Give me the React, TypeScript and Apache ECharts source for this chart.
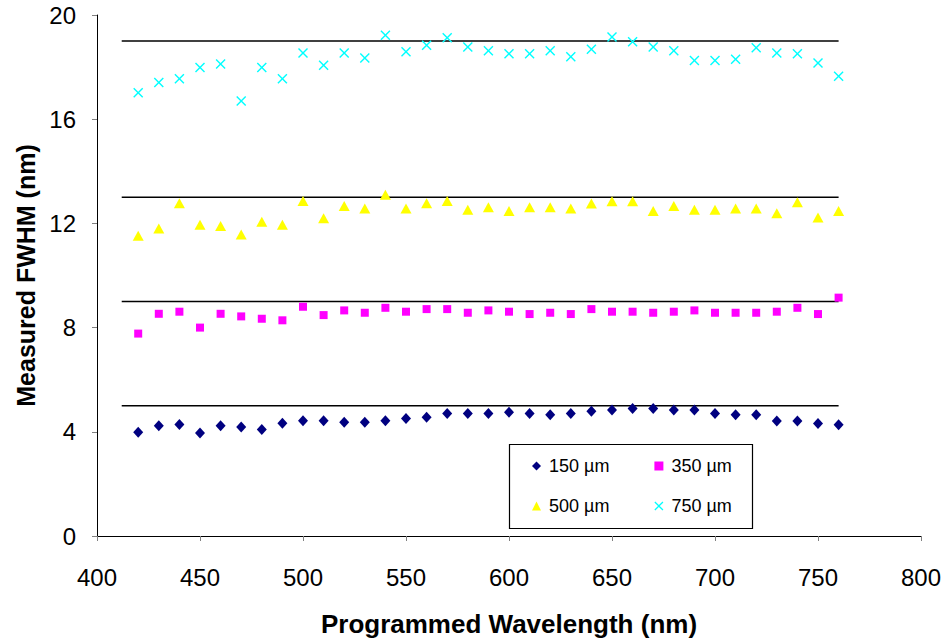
import React, { useEffect, useRef } from "react";
import * as echarts from "echarts";

const wavelengths = [420, 430, 440, 450, 460, 470, 480, 490, 500, 510, 520, 530, 540, 550, 560, 570, 580, 590, 600, 610, 620, 630, 640, 650, 660, 670, 680, 690, 700, 710, 720, 730, 740, 750, 760];

const fwhm150 = [3.98, 4.23, 4.28, 3.95, 4.23, 4.18, 4.09, 4.33, 4.42, 4.42, 4.37, 4.37, 4.42, 4.51, 4.56, 4.70, 4.70, 4.70, 4.75, 4.70, 4.65, 4.70, 4.79, 4.84, 4.89, 4.89, 4.84, 4.84, 4.70, 4.65, 4.65, 4.41, 4.41, 4.32, 4.27];
const fwhm350 = [7.77, 8.53, 8.61, 8.00, 8.53, 8.43, 8.34, 8.28, 8.80, 8.48, 8.66, 8.57, 8.76, 8.61, 8.71, 8.71, 8.57, 8.66, 8.61, 8.52, 8.57, 8.52, 8.71, 8.61, 8.61, 8.57, 8.61, 8.66, 8.57, 8.57, 8.57, 8.61, 8.76, 8.52, 9.15];
const fwhm500 = [11.53, 11.80, 12.77, 11.95, 11.90, 11.57, 12.06, 11.95, 12.86, 12.20, 12.67, 12.57, 13.10, 12.57, 12.77, 12.86, 12.52, 12.62, 12.48, 12.62, 12.62, 12.57, 12.76, 12.85, 12.85, 12.48, 12.67, 12.52, 12.52, 12.57, 12.57, 12.39, 12.81, 12.23, 12.48];
const fwhm750 = [17.02, 17.41, 17.55, 17.98, 18.12, 16.70, 17.98, 17.55, 18.54, 18.07, 18.54, 18.35, 19.22, 18.59, 18.84, 19.13, 18.77, 18.63, 18.51, 18.51, 18.63, 18.40, 18.69, 19.16, 18.97, 18.77, 18.63, 18.25, 18.25, 18.30, 18.74, 18.54, 18.51, 18.16, 17.65];

const seriesNames = ["150 µm", "350 µm", "500 µm", "750 µm"];
const nominalLevels = [5, 9, 13, 19];
const nominalRange = [412, 760];

const xTicks = { min: 400, max: 800, interval: 50 };
const yTicks = { min: 0, max: 20, interval: 4 };

const FONT = "'Liberation Sans', Arial, sans-serif";
const CROSS = "path://M0,1 L1,0 L5,4 L9,0 L10,1 L6,5 L10,9 L9,10 L5,6 L1,10 L0,9 L4,5 Z";

export default function App() {
  const ref = useRef<HTMLDivElement>(null);
  useEffect(() => {
    if (!ref.current) return;
    const chart = echarts.init(ref.current, null, { renderer: "svg" });
    const toPts = (vals: number[]) => wavelengths.map((w, i) => [w, vals[i]]);
    const scatterDefs = [
      { name: seriesNames[0], data: fwhm150, symbol: "diamond", size: [10, 11], color: "#000080" },
      { name: seriesNames[1], data: fwhm350, symbol: "rect", size: 8, color: "#FF00FF" },
      { name: seriesNames[2], data: fwhm500, symbol: "triangle", size: [11, 10], color: "#FFFF00" },
      { name: seriesNames[3], data: fwhm750, symbol: CROSS, size: 10, color: "#00FFFF" },
    ];
    const series: any[] = [];
    nominalLevels.forEach((lv) => {
      series.push({
        type: "line",
        name: "nominal " + lv,
        data: nominalRange.map((x) => [x, lv]),
        symbol: "none",
        lineStyle: { color: "#000", width: 1.5 },
        silent: true,
        z: 1,
      });
    });
    scatterDefs.forEach((d) => {
      series.push({
        type: "scatter",
        name: d.name,
        data: toPts(d.data),
        symbol: d.symbol,
        symbolSize: d.size,
        itemStyle: { color: d.color, opacity: 1 },
        z: 3,
      });
    });
    const legendCommon = {
      orient: "horizontal",
      itemWidth: 9,
      itemHeight: 9,
      itemGap: 45,
      textStyle: { fontFamily: FONT, fontSize: 18, color: "#000", padding: [0, 0, 0, 3] },
      padding: 0,
    };
    chart.setOption({
      animation: false,
      backgroundColor: "#fff",
      grid: { left: 97, right: 25, top: 15, bottom: 105, containLabel: false },
      xAxis: {
        type: "value",
        min: xTicks.min,
        max: xTicks.max,
        interval: xTicks.interval,
        name: "Programmed Wavelength (nm)",
        nameLocation: "middle",
        nameGap: 75,
        nameTextStyle: { fontFamily: FONT, fontSize: 26, fontWeight: "bold", color: "#000" },
        axisLine: { lineStyle: { color: "#000", width: 1 } },
        axisTick: { show: true, inside: false, length: 5, lineStyle: { color: "#808080" } },
        axisLabel: { fontFamily: FONT, fontSize: 24, color: "#000", margin: 29 },
        splitLine: { show: false },
      },
      yAxis: {
        type: "value",
        min: yTicks.min,
        max: yTicks.max,
        interval: yTicks.interval,
        name: "Measured FWHM (nm)",
        nameLocation: "middle",
        nameGap: 54,
        nameRotate: 90,
        nameTextStyle: { fontFamily: FONT, fontSize: 25, fontWeight: "bold", color: "#000" },
        axisLine: { show: true, lineStyle: { color: "#000", width: 1 } },
        axisTick: { show: true, inside: false, length: 5, lineStyle: { color: "#808080" } },
        axisLabel: { fontFamily: FONT, fontSize: 24, color: "#000", margin: 21 },
        splitLine: { show: false },
      },
      legend: [
        { ...legendCommon, left: 532, top: 457, data: [seriesNames[0], seriesNames[1]] },
        { ...legendCommon, left: 532, top: 497, data: [seriesNames[2], seriesNames[3]] },
      ],
      graphic: [
        {
          type: "rect",
          shape: { x: 509.5, y: 444.5, width: 243, height: 84 },
          style: { fill: "#fff", stroke: "#000", lineWidth: 1.2 },
          z: 0,
          silent: true,
        },
      ],
      series,
    });
    return () => chart.dispose();
  }, []);
  return <div ref={ref} style={{ width: 946, height: 642, position: "absolute", left: 0, top: 0 }} />;
}
